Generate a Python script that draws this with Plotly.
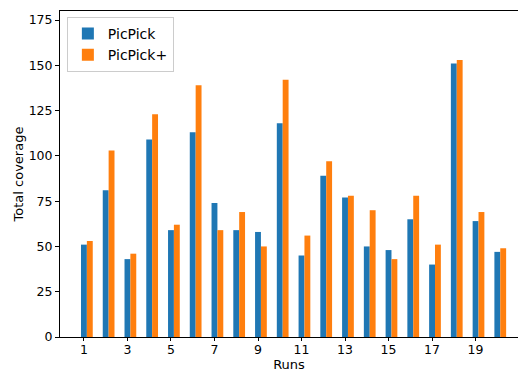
import plotly.graph_objects as go

runs = list(range(1, 21))
picpick = [51, 81, 43, 109, 59, 113, 74, 59, 58, 118, 45, 89, 77, 50, 48, 65, 40, 151, 64, 47]
picpick_plus = [53, 103, 46, 123, 62, 139, 59, 69, 50, 142, 56, 97, 78, 70, 43, 78, 51, 153, 69, 49]
tick_vals = [1, 3, 5, 7, 9, 11, 13, 15, 17, 19]
y_ticks = [0, 25, 50, 75, 100, 125, 150, 175]

W = 0.27
fig = go.Figure()
fig.add_trace(go.Bar(x=runs, y=picpick, name="PicPick", marker_color="#1f77b4",
                     marker_line_width=0, width=W, offset=-W / 2))
fig.add_trace(go.Bar(x=runs, y=picpick_plus, name="PicPick+", marker_color="#ff7f0e",
                     marker_line_width=0, width=W, offset=W / 2))

font = dict(family="DejaVu Sans", size=12.5, color="#000000")
tfont = dict(family="DejaVu Sans", size=13, color="#000000")
lfont = dict(family="DejaVu Sans", size=14, color="#000000")
fig.update_layout(
    width=518, height=372,
    margin=dict(l=60, r=0, t=11, b=35),
    plot_bgcolor="white", paper_bgcolor="white",
    barmode="overlay",
    font=font,
    showlegend=True,
    legend=dict(x=0.015, y=0.982, xanchor="left", yanchor="top",
                bgcolor="rgba(255,255,255,0.8)", bordercolor="#cccccc", borderwidth=1,
                font=lfont, itemwidth=30, tracegroupgap=0),
    xaxis=dict(range=[-0.1, 20.95], tickvals=tick_vals, showgrid=False, zeroline=False,
               showline=True, linecolor="black", linewidth=1, mirror=True,
               ticks="outside", ticklen=3, tickcolor="black", ticklabelstandoff=-2,
               title=dict(text="Runs", font=tfont, standoff=0)),
    yaxis=dict(range=[0, 180], tickvals=y_ticks, showgrid=False, zeroline=False,
               showline=True, linecolor="black", linewidth=1,
               ticks="outside", ticklen=4, tickcolor="black",
               title=dict(text="Total coverage", font=tfont, standoff=2)),
)
fig.write_html("out.html")
